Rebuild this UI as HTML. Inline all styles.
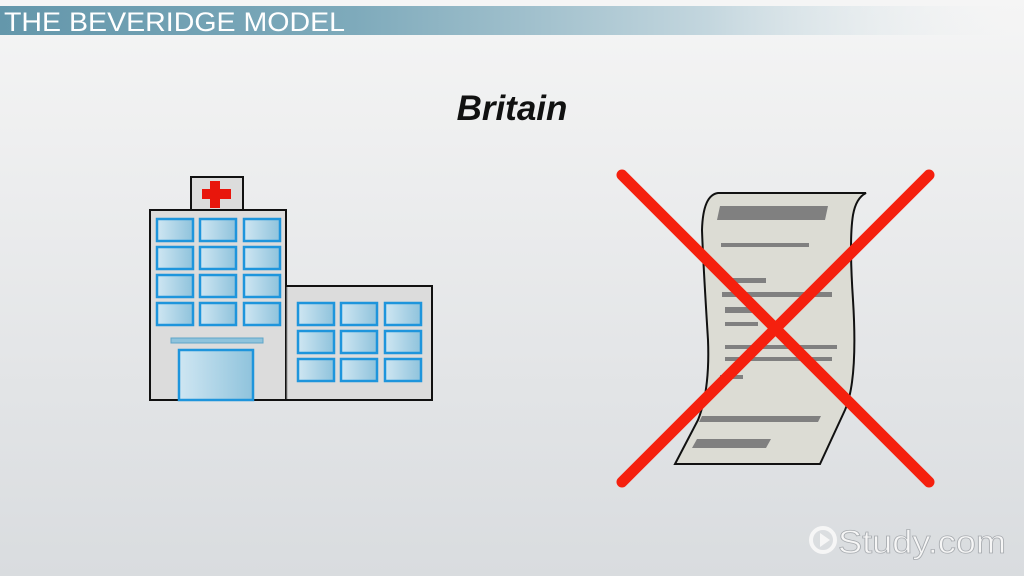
<!DOCTYPE html>
<html><head><style>
body{margin:0;width:1024px;height:576px;overflow:hidden;background:linear-gradient(#f5f5f5,#d9dcdf);font-family:"Liberation Sans",sans-serif}
</style></head><body>
<svg width="1024" height="576" viewBox="0 0 1024 576" xmlns="http://www.w3.org/2000/svg" style="position:absolute;left:0;top:0">
<defs>
<linearGradient id="hd" x1="0" x2="1"><stop offset="0" stop-color="#6497ab"/><stop offset="0.35" stop-color="#7eaabb"/><stop offset="0.7" stop-color="#c3d6de"/><stop offset="1" stop-color="#eef1f2" stop-opacity="0"/></linearGradient>
<linearGradient id="win" x1="0" x2="1"><stop offset="0" stop-color="#cfe6f2"/><stop offset="1" stop-color="#8fc3dc"/></linearGradient>
</defs>
<rect x="0" y="6" width="1010" height="29" fill="url(#hd)"/>
<text x="4" y="31" font-size="27" fill="#fff" font-family="Liberation Sans Narrow, Liberation Sans, sans-serif" textLength="341" lengthAdjust="spacingAndGlyphs">THE BEVERIDGE MODEL</text>
<text x="512" y="120" font-size="35" font-weight="bold" font-style="italic" text-anchor="middle" fill="#111">Britain</text>
<!-- hospital -->
<rect x="191" y="177" width="52" height="34" fill="#dcdcdc" stroke="#111" stroke-width="2"/>
<rect x="210" y="181" width="10" height="27" fill="#e8160c"/>
<rect x="202" y="189" width="29" height="10" fill="#e8160c"/>
<rect x="150" y="210" width="136" height="190" fill="#dcdcdc" stroke="#111" stroke-width="2"/>
<rect x="286" y="286" width="146" height="114" fill="#dcdcdc" stroke="#111" stroke-width="2"/>
<line x1="287" y1="287" x2="287" y2="399" stroke="#999" stroke-width="1"/>
<g fill="url(#win)" stroke="#1e95dc" stroke-width="2.5">
<rect x="157" y="219" width="36" height="22"/><rect x="200" y="219" width="36" height="22"/><rect x="244" y="219" width="36" height="22"/>
<rect x="157" y="247" width="36" height="22"/><rect x="200" y="247" width="36" height="22"/><rect x="244" y="247" width="36" height="22"/>
<rect x="157" y="275" width="36" height="22"/><rect x="200" y="275" width="36" height="22"/><rect x="244" y="275" width="36" height="22"/>
<rect x="157" y="303" width="36" height="22"/><rect x="200" y="303" width="36" height="22"/><rect x="244" y="303" width="36" height="22"/>
<rect x="298" y="303" width="36" height="22"/><rect x="341" y="303" width="36" height="22"/><rect x="385" y="303" width="36" height="22"/>
<rect x="298" y="331" width="36" height="22"/><rect x="341" y="331" width="36" height="22"/><rect x="385" y="331" width="36" height="22"/>
<rect x="298" y="359" width="36" height="22"/><rect x="341" y="359" width="36" height="22"/><rect x="385" y="359" width="36" height="22"/>
<rect x="179" y="350" width="74" height="50"/>
</g>
<rect x="171" y="338" width="92" height="5" fill="#8fc3dc" stroke="#5fa6c8" stroke-width="1"/>
<!-- paper -->
<path d="M718 193 L866 193 Q856 198 853 215 Q849 240 853 300 Q858 380 845 410 L820 464 L675 464 L698 420 Q710 390 708 340 Q703 260 702 230 Q703 195 718 193 Z" fill="#dcdcd4" stroke="#111" stroke-width="2"/>
<g fill="#808080">
<polygon points="720,206 828,206 825,220 717,220"/>
<rect x="721" y="243" width="88" height="4"/>
<rect x="730" y="278" width="36" height="5"/>
<rect x="722" y="292" width="110" height="5"/>
<rect x="725" y="307" width="30" height="6"/>
<rect x="725" y="322" width="33" height="4"/>
<rect x="725" y="345" width="112" height="4"/>
<rect x="725" y="357" width="107" height="4"/>
<rect x="720" y="375" width="23" height="4"/>
<polygon points="702,416 821,416 818,422 699,422"/>
<polygon points="697,439 771,439 766,448 692,448"/>
</g>
<g stroke="#f5200e" stroke-width="11" stroke-linecap="round">
<line x1="622" y1="175" x2="929" y2="482"/>
<line x1="929" y1="175" x2="622" y2="482"/>
</g>
<!-- logo -->
<g fill="#f6f6f6" stroke="#a9adb1" stroke-width="0.8">
<circle cx="823" cy="540" r="12" fill="none" stroke="#f6f6f6" stroke-width="4"/>
<polygon points="820,533 820,547 830,540" stroke="none"/>
<text x="838" y="553" font-size="32" textLength="168" lengthAdjust="spacingAndGlyphs">Study.com</text>
</g>
</svg>
</body></html>
